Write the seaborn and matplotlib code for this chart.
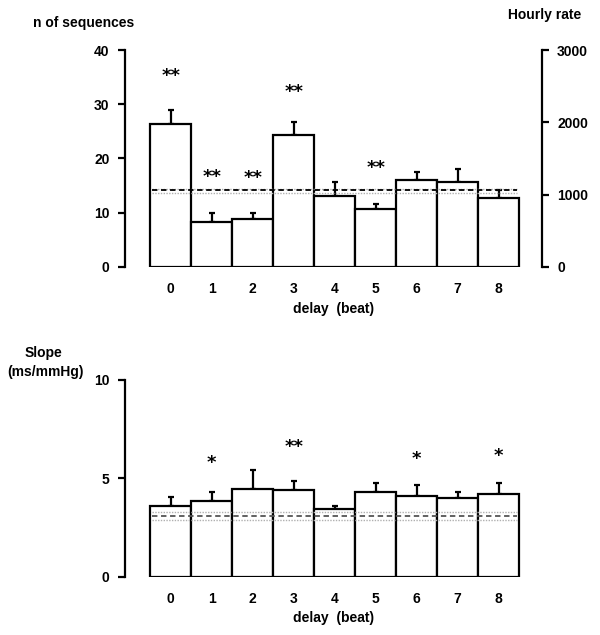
import numpy as np
import pandas as pd
import matplotlib
matplotlib.use("Agg")
import matplotlib.pyplot as plt
import seaborn as sns

#%% data

delay = ["0", "1", "2", "3", "4", "5", "6", "7", "8"]

# top panel: number of sequences
n_seq = [26.4, 8.3, 8.9, 24.4, 13.0, 10.65, 16.0, 15.6, 12.7]
n_seq_err = [2.5, 1.7, 1.1, 2.3, 2.6, 0.95, 1.5, 2.4, 1.5]
n_seq_stars = ["**", "**", "**", "**", "", "**", "", "", ""]
n_seq_star_y = [35.2, 16.5, 16.3, 32.3, 0, 18.2, 0, 0, 0]
n_seq_dashed = 14.2
n_seq_dotted = [14.35, 13.7]

# bottom panel: slope
slope = [3.61, 3.85, 4.47, 4.39, 3.42, 4.29, 4.07, 3.97, 4.17]
slope_err = [0.42, 0.44, 0.94, 0.47, 0.19, 0.44, 0.56, 0.32, 0.56]
slope_stars = ["", "*", "", "**", "", "", "*", "", "*"]
slope_star_y = [0, 5.75, 0, 6.6, 0, 0, 5.95, 0, 6.15]
slope_dashed = 3.1
slope_dotted = [3.28, 2.87]

#%% style

sns.set_style("white")
plt.rcParams['font.family'] = ['Liberation Sans Narrow', 'Liberation Sans', 'DejaVu Sans']
plt.rcParams['font.weight'] = 'bold'
plt.rcParams['font.size'] = 10
for k in ["text.color", "axes.labelcolor", "xtick.color", "ytick.color", "axes.edgecolor"]:
    plt.rcParams[k] = "black"

fig = plt.figure(figsize=(6, 6.35), dpi=100)
ax1 = fig.add_axes([0.208, 0.58, 0.695, 0.341])
ax2 = fig.add_axes([0.208, 0.092, 0.695, 0.31])

xlim = (-1.12, 9.05)


def draw_panel(ax, values, errs, stars, star_y, dashed, dotted, dash_color):
    df = pd.DataFrame({"delay": delay, "value": values})
    sns.barplot(data=df, x="delay", y="value", color="white", edgecolor="black",
                linewidth=1.6, width=1.0, saturation=1, errorbar=None, ax=ax, zorder=2)
    x = np.arange(len(values))
    ax.errorbar(x, values, yerr=[np.zeros(len(errs)), errs], fmt="none",
                ecolor="black", elinewidth=1.6, capsize=2.5, capthick=1.6, zorder=1)
    for d in dotted:
        ax.hlines(d, -0.45, 8.45, colors="#b0b0b0", linestyles=(0, (1, 1)),
                  linewidth=1.0, zorder=3)
    ax.hlines(dashed, -0.45, 8.45, colors=dash_color, linestyles=(0, (3, 2)),
              linewidth=1.3, zorder=4)
    for xi, s, sy in zip(x, stars, star_y):
        if s:
            ax.text(xi, sy, s, ha="center", va="center", fontsize=13,
                    fontweight="bold", family="DejaVu Sans")
    ax.set_xlim(*xlim)
    ax.set_xlabel("delay  (beat)", fontsize=10, fontweight="bold", labelpad=4)
    ax.set_ylabel("")
    sns.despine(ax=ax, bottom=True, right=True, top=True)
    ax.spines["left"].set_linewidth(1.6)
    ax.tick_params(axis="y", direction="out", length=5, width=1.6, left=True,
                   labelsize=10, pad=6)
    ax.tick_params(axis="x", length=0, labelsize=10, pad=11)
    for lab in ax.get_xticklabels() + ax.get_yticklabels():
        lab.set_fontweight("bold")


#%% top panel
draw_panel(ax1, n_seq, n_seq_err, n_seq_stars, n_seq_star_y,
           n_seq_dashed, n_seq_dotted, "black")
ax1.set_ylim(0, 40)
ax1.set_yticks([0, 10, 20, 30, 40])

ax1r = ax1.twinx()
ax1r.set_ylim(0, 3000)
ax1r.set_yticks([0, 1000, 2000, 3000])
for s in ["top", "left", "bottom"]:
    ax1r.spines[s].set_visible(False)
ax1r.spines["right"].set_linewidth(1.6)
ax1r.tick_params(axis="y", direction="out", length=5, width=1.6, right=True,
                 labelsize=10, pad=6)
for lab in ax1r.get_yticklabels():
    lab.set_fontweight("bold")

fig.text(0.055, 0.963, "n of sequences", fontsize=10, fontweight="bold", va="center")
fig.text(0.847, 0.976, "Hourly rate", fontsize=10, fontweight="bold", va="center")

#%% bottom panel
draw_panel(ax2, slope, slope_err, slope_stars, slope_star_y,
           slope_dashed, slope_dotted, "#555555")
ax2.set_ylim(0, 10)
ax2.set_yticks([0, 5, 10])

fig.text(0.072, 0.444, "Slope", fontsize=10, fontweight="bold", ha="center", va="center")
fig.text(0.075, 0.414, "(ms/mmHg)", fontsize=10, fontweight="bold", ha="center", va="center")

fig.savefig("out.png", dpi=100)
